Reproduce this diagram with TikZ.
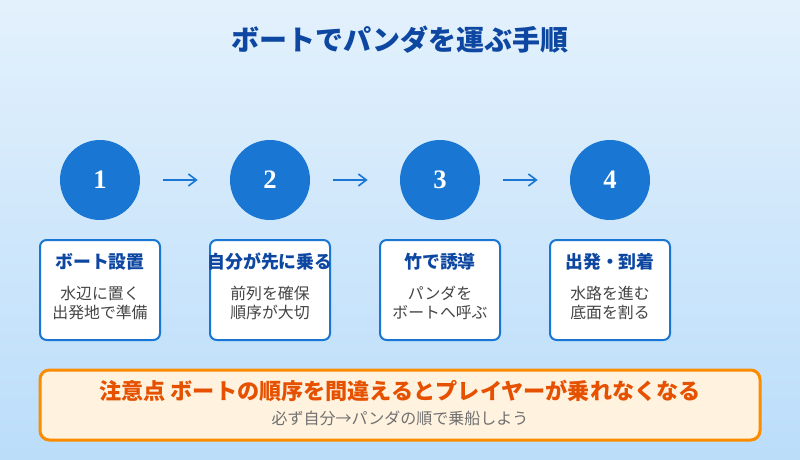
\documentclass[tikz,border=0pt]{standalone}
\usepackage{fontspec}
\setmainfont{Noto Sans CJK JP}
\newfontfamily\numfont{Liberation Serif}
\usetikzlibrary{calc,arrows.meta}

\definecolor{bgtop}{HTML}{E3F1FC}
\definecolor{bgbot}{HTML}{BBDDFA}
\definecolor{stepblue}{HTML}{1976D2}
\definecolor{headblue}{HTML}{0D47A1}
\definecolor{bodygray}{HTML}{444444}
\definecolor{notegray}{HTML}{707070}
\definecolor{noteorange}{HTML}{FB8C00}
\definecolor{notefill}{HTML}{FFF3E0}
\definecolor{notetext}{HTML}{E65100}

\begin{document}
\begin{tikzpicture}[x=0.75pt, y=-0.75pt,
  stepdot/.style={circle, fill=stepblue, minimum size=60pt, inner sep=0pt,
                  text=white, font=\numfont\bfseries\fontsize{20}{20}\selectfont},
  stepbox/.style={draw=stepblue, line width=1.5pt, fill=white, rounded corners=5pt,
                  minimum width=90pt, minimum height=75pt, inner sep=0pt},
  boxhead/.style={text=headblue, font=\bfseries\fontsize{13.4}{15}\selectfont},
  boxbody/.style={text=bodygray, align=center, font=\fontsize{11.9}{14.25}\selectfont},
  flow/.style={draw=stepblue, line width=1.2pt, -{Straight Barb[length=6pt,width=9pt]}}]

  % --- 背景 ---
  \useasboundingbox (0,0) rectangle (800,460);
  \shade[top color=bgtop, bottom color=bgbot] (0,0) rectangle (800,460);

  % --- タイトル ---
  \node[text=headblue, font=\bfseries\fontsize{21}{24}\selectfont] (title) at (400,40)
    {ボートでパンダを運ぶ手順};

  % --- 手順 1〜4 ---
  \foreach \i/\x/\head/\body in {
      1/100/ボート設置/{水辺に置く\\出発地で準備},
      2/270/自分が先に乗る/{前列を確保\\順序が大切},
      3/440/竹で誘導/{パンダを\\ボートへ呼ぶ},
      4/610/出発・到着/{水路を進む\\底面を割る}} {
    \node[stepdot] (c\i) at (\x,180) {\i};
    \node[stepbox] (b\i) at (\x,290) {};
    \node[boxhead] (h\i) at ($(b\i.north)+(0,23)$) {\head};
    \node[boxbody] (t\i) at ($(b\i.north)+(0,64)$) {\body};
  }

  % --- 矢印 ---
  \foreach \a/\b in {1/2, 2/3, 3/4}
    \draw[flow, shorten <=17pt, shorten >=24pt] (c\a) -- (c\b);

  % --- 注意点 ---
  \node[draw=noteorange, line width=2.25pt, fill=notefill, rounded corners=7pt,
        minimum width=540pt, minimum height=52.5pt, inner sep=0pt] (note) at (400,405) {};
  \node[text=notetext, font=\bfseries\fontsize{16.6}{19}\selectfont] (warn) at (400,391)
    {注意点 ボートの順序を間違えるとプレイヤーが乗れなくなる};
  \node[text=notegray, font=\fontsize{12}{14}\selectfont] (tip) at (400,418)
    {必ず自分→パンダの順で乗船しよう};
\end{tikzpicture}
\end{document}
